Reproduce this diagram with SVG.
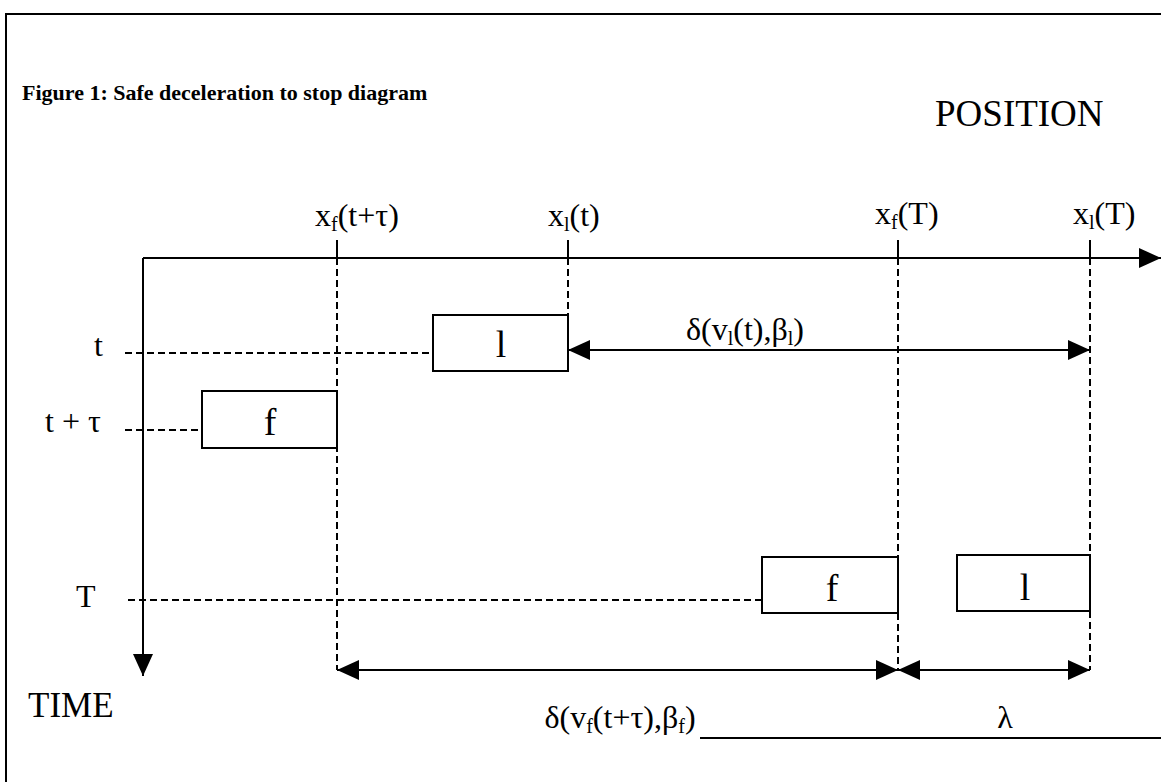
<svg xmlns="http://www.w3.org/2000/svg" width="1161" height="782" viewBox="0 0 1161 782">
<defs>
<marker id="ah" markerUnits="userSpaceOnUse" markerWidth="22" markerHeight="20" refX="22" refY="10" orient="auto-start-reverse">
<path d="M0,0 L22,10 L0,20 Z" fill="#000"/>
</marker>
<style>
text{font-family:"Liberation Serif","Times New Roman",serif;fill:#000}
.lbl{font-size:32px}
.sub{font-size:20px}
.big{font-size:37px}
.box-lbl{font-size:38px}
.title{font-size:22px;font-weight:bold}
.solid{stroke:#000;stroke-width:2;fill:none}
.dash{stroke:#000;stroke-width:2;fill:none;stroke-dasharray:7,4}
.box{stroke:#000;stroke-width:2;fill:#fff}
</style>
</defs>
<rect width="1161" height="782" fill="#fff"/>
<g id="frame">
<path class="solid" d="M6,782 L6,14 L1161,14"/>
<path class="solid" d="M700,738 L1161,738"/>
</g>
<text class="title" x="22" y="100">Figure 1: Safe deceleration to stop diagram</text>
<text class="big" x="935" y="126">POSITION</text>
<text class="big" x="28" y="717" style="font-size:35px">TIME</text>
<g id="connectors">
<line class="solid" x1="143" y1="258" x2="1161" y2="258" marker-end="url(#ah)"/>
<line class="solid" x1="143" y1="258" x2="143" y2="676" marker-end="url(#ah)"/>
<line class="solid" x1="337" y1="240" x2="337" y2="258"/>
<line class="solid" x1="568" y1="240" x2="568" y2="258"/>
<line class="solid" x1="898" y1="240" x2="898" y2="258"/>
<line class="solid" x1="1090" y1="240" x2="1090" y2="258"/>
<line class="dash" x1="337" y1="258" x2="337" y2="670"/>
<line class="dash" x1="568" y1="258" x2="568" y2="315"/>
<line class="dash" x1="898" y1="258" x2="898" y2="557"/>
<line class="dash" x1="898" y1="613" x2="898" y2="670"/>
<line class="dash" x1="1090" y1="258" x2="1090" y2="555"/>
<line class="dash" x1="1090" y1="611" x2="1090" y2="670"/>
<line class="dash" x1="125" y1="353" x2="433" y2="353"/>
<line class="dash" x1="125" y1="430" x2="202" y2="430"/>
<line class="dash" x1="128" y1="600" x2="762" y2="600"/>
<line class="solid" x1="568" y1="350" x2="1090" y2="350" marker-start="url(#ah)" marker-end="url(#ah)"/>
<line class="solid" x1="337" y1="670" x2="898" y2="670" marker-start="url(#ah)" marker-end="url(#ah)"/>
<line class="solid" x1="898" y1="670" x2="1090" y2="670" marker-start="url(#ah)" marker-end="url(#ah)"/>
</g>
<g id="axis-labels">
<text class="lbl" x="315" y="226">x<tspan class="sub" dy="5">f</tspan><tspan dy="-5">(t+τ)</tspan></text>
<text class="lbl" x="548" y="226">x<tspan class="sub" dy="5">l</tspan><tspan dy="-5">(t)</tspan></text>
<text class="lbl" x="875" y="224">x<tspan class="sub" dy="5">f</tspan><tspan dy="-5">(T)</tspan></text>
<text class="lbl" x="1073" y="224">x<tspan class="sub" dy="5">l</tspan><tspan dy="-5">(T)</tspan></text>
<text class="lbl" x="94" y="356">t</text>
<text class="lbl" x="45" y="432">t + τ</text>
<text class="lbl" x="76" y="607">T</text>
<text class="lbl" x="745" y="340" text-anchor="middle">δ(v<tspan class="sub" dy="5">l</tspan><tspan dy="-5">(t),β</tspan><tspan class="sub" dy="5">l</tspan><tspan dy="-5">)</tspan></text>
<text class="lbl" x="620" y="728" text-anchor="middle">δ(v<tspan class="sub" dy="5">f</tspan><tspan dy="-5">(t+τ),β</tspan><tspan class="sub" dy="5">f</tspan><tspan dy="-5">)</tspan></text>
<text class="lbl" x="1005" y="728" text-anchor="middle">λ</text>
</g>
<g id="leader-t">
<rect class="box" x="433" y="315" width="135" height="56"/>
<text class="box-lbl" x="501" y="357" text-anchor="middle">l</text>
</g>
<g id="follower-t-tau">
<rect class="box" x="202" y="391" width="135" height="57"/>
<text class="box-lbl" x="270" y="435" text-anchor="middle">f</text>
</g>
<g id="follower-T">
<rect class="box" x="762" y="557" width="136" height="56"/>
<text class="box-lbl" x="832" y="601" text-anchor="middle">f</text>
</g>
<g id="leader-T">
<rect class="box" x="957" y="555" width="133" height="56"/>
<text class="box-lbl" x="1025" y="600" text-anchor="middle">l</text>
</g>
</svg>
